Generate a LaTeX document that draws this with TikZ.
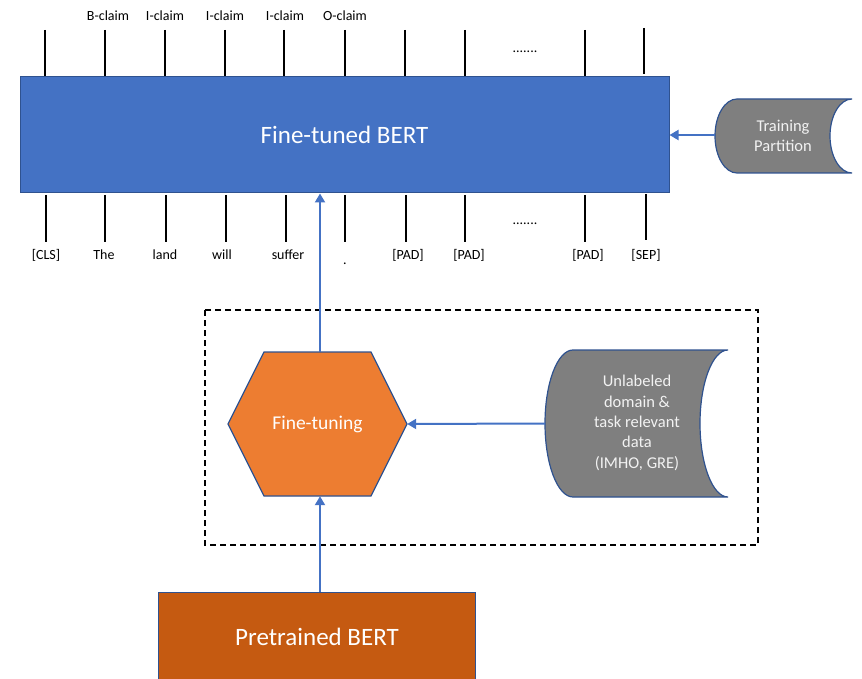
\documentclass[tikz,border=0pt]{standalone}
\usepackage{fontspec}
\setmainfont{Carlito}
\usetikzlibrary{arrows.meta}
\definecolor{bblue}{HTML}{4472C4}
\definecolor{bborder}{HTML}{2F528F}
\definecolor{ftorange}{HTML}{ED7D31}
\definecolor{ptorange}{HTML}{C55A11}
\definecolor{dgray}{HTML}{7F7F7F}
\begin{document}
\begin{tikzpicture}[x=1pt,y=1pt,
  tok/.style={font=\fontsize{14}{16}\selectfont, anchor=base, inner sep=0pt},
  tickline/.style={draw=black, line width=2pt},
  arr/.style={draw=bblue, line width=2pt, -{Triangle[length=9pt,width=10pt]}},
  bigtext/.style={text=white, font=\fontsize{25}{30}\selectfont},
  dbtext/.style={text=white!95!black, font=\fontsize{16.5}{20.3}\selectfont, align=center},
  dbshape/.style={fill=dgray, draw=bborder, line width=1.2pt}]
\clip (0,0) rectangle (862,-679);
% Fine-tuned BERT
\node[draw=bborder, fill=bblue, line width=1pt, minimum width=649pt, minimum height=116pt, inner sep=0pt, bigtext] (ftb) at (344.5,-135) {Fine-tuned BERT};
% top ticks
\foreach \x in {45,105,165,225,284,345,405,465,585}
  \draw[tickline] (\x,-30) -- (\x,-76);
\draw[tickline] (644,-28) -- (644,-74);
% bottom ticks
\foreach \x in {46,105,166,226,286,345,406,465,585}
  \draw[tickline] (\x,-195) -- (\x,-242);
\draw[tickline] (646,-194) -- (646,-240);
% top labels
\node[tok] (t1) at (108,-21) {B-claim};
\node[tok] (t2) at (165,-21) {I-claim};
\node[tok] (t3) at (225,-21) {I-claim};
\node[tok] (t4) at (285,-21) {I-claim};
\node[tok] (t5) at (345,-21) {O-claim};
\node[tok] (tdots) at (525,-53) {.......};
% bottom labels
\node[tok] (b1) at (46,-259.5) {[CLS]};
\node[tok] (b2) at (104,-259.5) {The};
\node[tok] (b3) at (165,-259.5) {land};
\node[tok] (b4) at (222,-259.5) {will};
\node[tok] (b5) at (288,-259.5) {suffer};
\node[tok] (b6) at (345,-265) {.};
\node[tok] (b7) at (408,-259.5) {[PAD]};
\node[tok] (b8) at (469,-259.5) {[PAD]};
\node[tok] (b9) at (588,-259.5) {[PAD]};
\node[tok] (b10) at (646,-259.5) {[SEP]};
\node[tok] (bdots) at (525,-225) {.......};
% Training partition cylinder
\path[dbshape] (737,-99) -- (852,-99) arc[start angle=90,end angle=270,x radius=22,y radius=37]
  -- (737,-173) arc[start angle=270,end angle=90,x radius=22,y radius=37] -- cycle;
\node[dbtext] (train) at (783,-136) {Training\\Partition};
\coordinate (trainw) at (715,-135);
% dashed box
\draw[dashed, dash pattern=on 6pt off 4pt, line width=1.5pt] (205,-310) rectangle (758,-545);
% hexagon
\draw[fill=ftorange, draw=bborder, line width=1.2pt] (228,-424) -- (264,-352) -- (371,-352) -- (407,-424) -- (371,-496) -- (264,-496) -- cycle;
\node[minimum width=179pt, minimum height=144pt, inner sep=0pt, text=white, font=\fontsize{19.5}{23}\selectfont] (hex) at (317.5,-424) {Fine-tuning};
% unlabeled cylinder
\path[dbshape] (573,-350) -- (728,-350) arc[start angle=90,end angle=270,x radius=28,y radius=73.5]
  -- (573,-497) arc[start angle=270,end angle=90,x radius=28,y radius=73.5] -- cycle;
\node[dbtext] (unl) at (637,-423) {Unlabeled\\domain \&\\task relevant\\data\\(IMHO, GRE)};
\coordinate (unlw) at (545,-423.5);
% pretrained BERT
\node[draw=bborder, fill=ptorange, line width=1pt, minimum width=317pt, minimum height=100pt, inner sep=0pt, anchor=north] (pb) at (316.5,-592) {};
\node[bigtext] (pbt) at (317,-637) {Pretrained BERT};
% arrows
\draw[arr] (trainw) -- (trainw -| ftb.east);
\draw[arr] (unlw) -- (hex.east);
\draw[arr] (pb.north -| 320,0) -- (hex.south -| 320,0);
\draw[arr] (hex.north -| 320,0) -- (ftb.south -| 320,0);
\end{tikzpicture}
\end{document}
